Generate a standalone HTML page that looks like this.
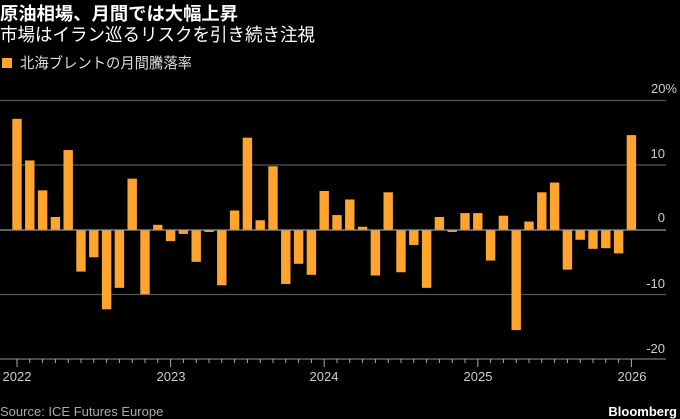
<!DOCTYPE html>
<html><head><meta charset="utf-8"><style>
html,body{margin:0;padding:0;background:#000;}
svg{display:block;}
text{font-family:"Liberation Sans","Noto Sans CJK JP",sans-serif;}
</style></head><body>
<svg width="680" height="419" viewBox="0 0 680 419" xmlns="http://www.w3.org/2000/svg">
<rect width="680" height="419" fill="#000"/>
<text x="0" y="20" font-size="18" font-weight="bold" fill="#fff" textLength="238" lengthAdjust="spacingAndGlyphs">原油相場、月間では大幅上昇</text>
<text x="0" y="41" font-size="18" fill="#fff" textLength="315" lengthAdjust="spacingAndGlyphs">市場はイラン巡るリスクを引き続き注視</text>
<rect x="2" y="58" width="10" height="10" fill="#ffa52f"/>
<text x="20" y="68" font-size="15" fill="#ddd" textLength="172" lengthAdjust="spacingAndGlyphs">北海ブレントの月間騰落率</text>
<g stroke="#555" stroke-width="1.3">
<line x1="0" y1="100.5" x2="666" y2="100.5"/>
<line x1="0" y1="165" x2="666" y2="165"/>
<line x1="0" y1="294.5" x2="666" y2="294.5"/>
</g>
<g id="bars" fill="#ffa52f"></g>
<line x1="0" y1="230" x2="666" y2="230" stroke="#999" stroke-width="1.3"/>
<line x1="0" y1="359" x2="666" y2="359" stroke="#777" stroke-width="1.3"/>
<g id="ticks" stroke="#aaa" stroke-width="1"></g>
<g font-size="13" fill="#ccc" text-anchor="end">
<text x="677" y="93">20%</text>
<text x="665" y="158">10</text>
<text x="665" y="222">0</text>
<text x="665" y="288">-10</text>
<text x="665" y="353">-20</text>
</g>
<g font-size="13" fill="#ccc" text-anchor="middle">
<text x="17" y="381">2022</text>
<text x="171" y="381">2023</text>
<text x="324" y="381">2024</text>
<text x="478" y="381">2025</text>
<text x="632" y="381">2026</text>
</g>
<text x="0" y="416" font-size="13" fill="#aaa">Source: ICE Futures Europe</text>
<text x="677" y="416" font-size="13" font-weight="bold" fill="#fff" text-anchor="end">Bloomberg</text>
</svg>
<script>
var v=[17.1,10.7,6.1,2.0,12.3,-6.4,-4.2,-12.2,-8.9,7.9,-9.9,0.8,
-1.7,-0.6,-4.9,-0.3,-8.5,3.0,14.2,1.5,9.8,-8.3,-5.2,-6.9,
6.0,2.3,4.7,0.5,-7.0,5.8,-6.5,-2.3,-8.9,2.0,-0.3,2.6,
2.6,-4.7,2.2,-15.4,1.3,5.8,7.3,-6.1,-1.5,-2.9,-2.8,-3.6,14.6];
var ns="http://www.w3.org/2000/svg",g=document.getElementById("bars"),t=document.getElementById("ticks");
for(var k=0;k<v.length;k++){var cx=17+k*12.8;var h=Math.abs(v[k])*6.5;var r=document.createElementNS(ns,"rect");
r.setAttribute("x",cx-4.7);r.setAttribute("width",9.4);r.setAttribute("y",v[k]>=0?230-h:230);r.setAttribute("height",h);g.appendChild(r);
var l=document.createElementNS(ns,"line");l.setAttribute("x1",cx);l.setAttribute("x2",cx);l.setAttribute("y1",359);l.setAttribute("y2",k%12==0?367:363);t.appendChild(l);}
</script>
</body></html>
